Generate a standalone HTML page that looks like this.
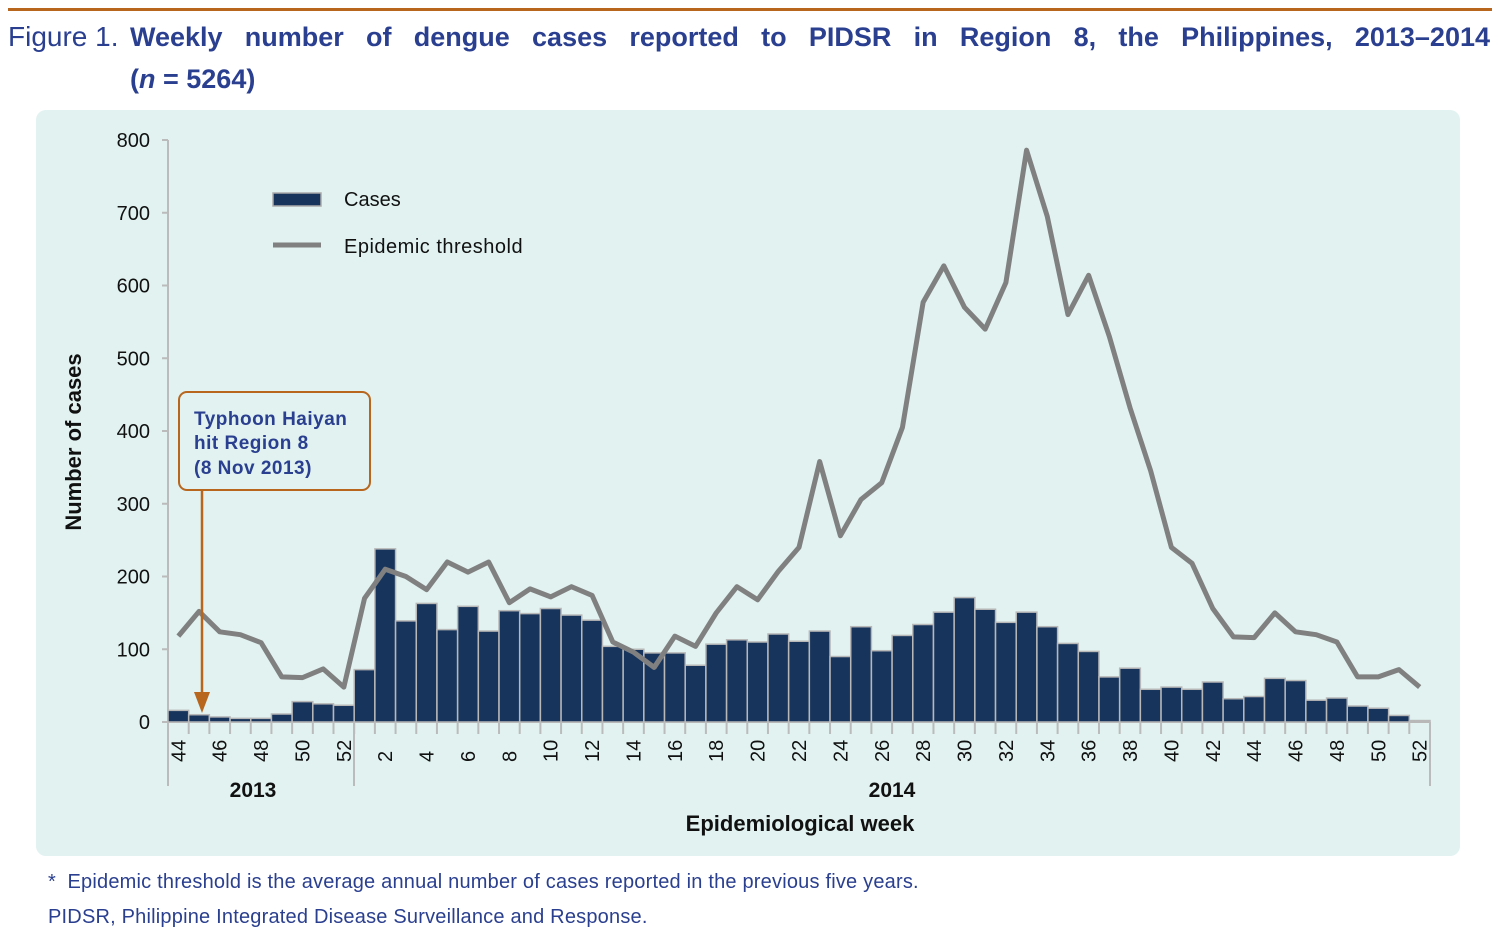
<!DOCTYPE html>
<html><head><meta charset="utf-8"><style>
body{margin:0;width:1500px;height:935px;background:#fff;font-family:"Liberation Sans",sans-serif;overflow:hidden;position:relative}
.t{position:absolute;color:#2a3f8f}
</style></head><body>
<div style="position:absolute;left:8px;top:8px;width:1484px;height:3px;background:#b8661e"></div>
<div class="t" style="left:8px;top:18px;font-size:28px;line-height:38px">Figure 1.</div>
<div class="t" style="left:130px;top:18px;width:1360px;font-size:27px;line-height:38px;font-weight:bold;text-align:justify;text-align-last:justify">Weekly number of dengue cases reported to PIDSR in Region 8, the Philippines, 2013–2014</div>
<div class="t" style="left:130px;top:60px;font-size:27px;line-height:38px;font-weight:bold">(<i>n</i> = 5264)</div>
<div style="position:absolute;left:36px;top:110px;width:1424px;height:746px;background:#e1f2f0;border-radius:10px"></div>
<svg id="chart" width="1500" height="935" style="position:absolute;left:0;top:0"></svg>
<div class="t" style="left:48px;top:871px;font-size:20px;letter-spacing:0.2px">*&nbsp; Epidemic threshold is the average annual number of cases reported in the previous five years.</div>
<div class="t" style="left:48px;top:906px;font-size:20px;letter-spacing:0.2px">PIDSR, Philippine Integrated Disease Surveillance and Response.</div>
<script>
const weeks=[44,45,46,47,48,49,50,51,52,1,2,3,4,5,6,7,8,9,10,11,12,13,14,15,16,17,18,19,20,21,22,23,24,25,26,27,28,29,30,31,32,33,34,35,36,37,38,39,40,41,42,43,44,45,46,47,48,49,50,51,52];
const cases=[16,10,7,5,5,11,28,25,23,72,238,139,163,127,159,125,153,149,156,147,140,104,100,95,95,78,107,113,110,121,111,125,90,131,98,119,134,151,171,155,137,151,131,108,97,62,74,45,48,45,55,32,35,60,57,30,33,22,19,9,2];
const threshold=[118,152,124,120,109,62,61,73,48,170,210,200,182,220,206,220,164,183,172,186,174,110,96,75,118,104,150,186,168,207,240,358,256,306,329,405,577,627,570,540,604,786,695,560,614,530,432,345,240,218,156,117,116,150,124,120,110,62,62,72,48];
const yTicks=[0,100,200,300,400,500,600,700,800];
const NS='http://www.w3.org/2000/svg';
const svg=document.getElementById('chart');
const x0=168,x1=1430,bw=(x1-x0)/weeks.length;
const y=v=>722-v*582/800;
const xc=i=>x0+bw*(i+0.5);
function mk(t,a,p){const e=document.createElementNS(NS,t);for(const k in a)e.setAttribute(k,a[k]);(p||svg).appendChild(e);return e;}
let e=mk('line',{x1:x0,y1:140,x2:x0,y2:786,stroke:'#bbb','stroke-width':2});

e=mk('line',{x1:x0,y1:722,x2:x1,y2:722,stroke:'#bbb','stroke-width':2});

yTicks.forEach(v=>{
 mk('line',{x1:x0-6,y1:y(v),x2:x0,y2:y(v),stroke:'#bbb','stroke-width':2});
 const t=mk('text',{x:150,y:y(v)+7,'text-anchor':'end','font-size':20,fill:'#111','font-family':'Liberation Sans'});
 t.textContent=v;
 
 
});
cases.forEach((v,i)=>{
 const r=mk('rect',{x:x0+bw*i,y:y(v),width:bw,height:722-y(v),fill:'#17345c',stroke:'#b8b8b8','stroke-width':1.5});
 
 
});
for(let i=0;i<=weeks.length;i++){mk('line',{x1:x0+bw*i,y1:722,x2:x0+bw*i,y2:734,stroke:'#bbb','stroke-width':2});}
weeks.forEach((w,i)=>{
 if(w%2)return;
 const t=mk('text',{transform:`translate(${xc(i)+7},762) rotate(-90)`,'font-size':20,fill:'#111','font-family':'Liberation Sans'});
 t.textContent=w;
 
 
});
[354,x1].forEach(xx=>mk('line',{x1:xx,y1:722,x2:xx,y2:786,stroke:'#bbb','stroke-width':2}));
const line=mk('polyline',{points:threshold.map((v,i)=>xc(i)+','+y(v)).join(' '),fill:'none',stroke:'#808080','stroke-width':5,'stroke-linejoin':'round'});


function txt(s,a,name){const t=mk('text',Object.assign({'font-family':'Liberation Sans',fill:'#111'},a));t.textContent=s;return t;}
txt('2013',{x:253,y:797,'text-anchor':'middle','font-size':21,'font-weight':'bold'},'year-label-2013');
txt('2014',{x:892,y:797,'text-anchor':'middle','font-size':21,'font-weight':'bold'},'year-label-2014');
txt('Epidemiological week',{x:800,y:831,'text-anchor':'middle','font-size':22,'font-weight':'bold'},'x-axis-title');
txt('Number of cases',{transform:'translate(81,442) rotate(-90)','text-anchor':'middle','font-size':22,'font-weight':'bold'},'y-axis-title');
e=mk('rect',{x:273,y:193,width:48,height:13,fill:'#17345c',stroke:'#aaa','stroke-width':1.5});

txt('Cases',{x:344,y:206,'font-size':20},'legend-cases-label');
e=mk('line',{x1:273,y1:245,x2:321,y2:245,stroke:'#808080','stroke-width':5});

txt('Epidemic threshold',{x:344,y:253,'font-size':20,'letter-spacing':0.5},'legend-threshold-label');
e=mk('rect',{x:179,y:392,width:191,height:98,rx:8,fill:'none',stroke:'#b8661e','stroke-width':2});

[['Typhoon Haiyan',425],['hit Region 8',449],['(8 Nov 2013)',474]].forEach(([s,yy])=>txt(s,{x:194,y:yy,'font-size':19,'font-weight':'bold',fill:'#2a3f8f','letter-spacing':0.5},'typhoon-annotation-text'));
e=mk('line',{x1:202,y1:490,x2:202,y2:696,stroke:'#b8661e','stroke-width':2.5});

e=mk('polygon',{points:'194,692 210,692 202,713',fill:'#b8661e'});

</script>
</body></html>
